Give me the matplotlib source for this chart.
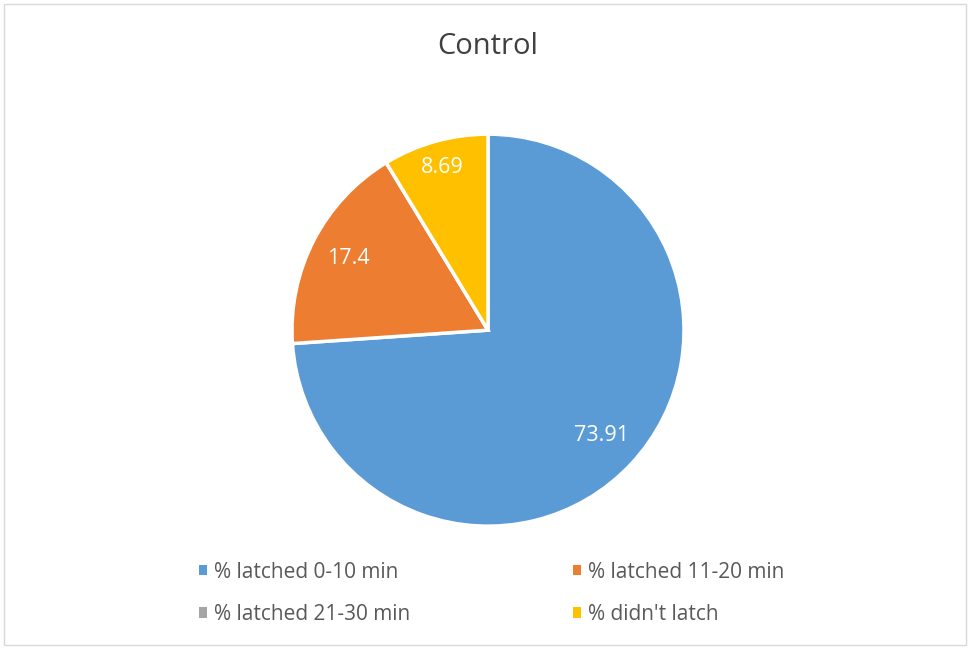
import matplotlib
matplotlib.use("Agg")
import matplotlib.pyplot as plt
import numpy as np

categories = ["% latched 0-10 min", "% latched 11-20 min", "% latched 21-30 min", "% didn't latch"]
values = [73.91, 17.4, 0, 8.69]
value_labels = ["73.91", "17.4", "", "8.69"]
colors = ["#5B9BD5", "#ED7D31", "#A5A5A5", "#FFC000"]
label_dist = [0.79, 0.8, 0.83, 0.86]

plt.rcParams['font.family'] = ['Open Sans', 'DejaVu Sans']

fig = plt.figure(figsize=(9.72, 6.48), dpi=100)
ax = fig.add_axes([0.3004, 0.188, 0.4033, 0.605])
wedges, texts = ax.pie(values, colors=colors, startangle=90, counterclock=False,
                       labels=value_labels, labeldistance=0.81,
                       wedgeprops=dict(edgecolor="white", linewidth=2.5),
                       textprops=dict(color="white", fontsize=15.5))
for w, t, d in zip(wedges, texts, label_dist):
    ang = np.deg2rad((w.theta1 + w.theta2) / 2)
    t.set_position((d * np.cos(ang), d * np.sin(ang)))
    t.set_ha("center"); t.set_va("center")
ax.set_xlim(-1.0, 1.0)
ax.set_ylim(-1.0, 1.0)
ax.set_aspect("equal")

fig.text(0.502, 0.929, "Control", ha="center", va="center", fontsize=21, color="#404040")

order = [0, 2, 1, 3]
leg = fig.legend([wedges[i] for i in order], [categories[i] for i in order],
                 loc="center", bbox_to_anchor=(0.506, 0.0845), ncol=2,
                 frameon=False, fontsize=15, labelcolor="#595959",
                 handlelength=0.38, handleheight=0.38, handletextpad=0.35,
                 columnspacing=7.8, labelspacing=1.02)
for h in leg.legend_handles:
    h.set_linewidth(0)

fig.patches.append(plt.Rectangle((0.004, 0.004), 0.99, 0.99, transform=fig.transFigure,
                                 fill=False, edgecolor="#D9D9D9", linewidth=1))

fig.savefig("out.png", dpi=100)
